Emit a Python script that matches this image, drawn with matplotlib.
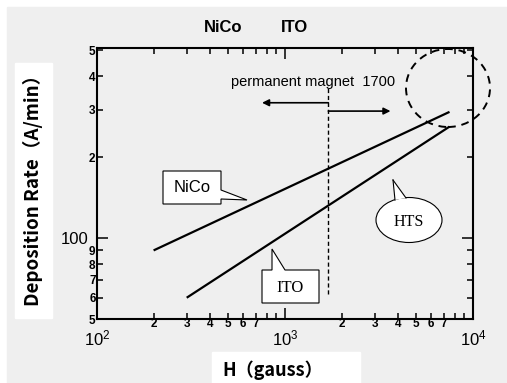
import matplotlib
matplotlib.use("Agg")
import matplotlib.pyplot as plt
from matplotlib import ticker
from matplotlib.patches import Polygon, Ellipse, Rectangle
from matplotlib.lines import Line2D

# deposition rate vs magnetic field (log-log)
nico_h = [200, 7500]
nico_rate = [90, 295]
ito_h = [300, 7500]
ito_rate = [60, 260]
magnet_h = 1700

x_minor = [200, 300, 400, 500, 600, 700, 800, 900,
           2000, 3000, 4000, 5000, 6000, 7000, 8000, 9000]
y_minor = [50, 60, 70, 80, 90, 200, 300, 400, 500]

W, H = 507, 383
BG = "#efefef"


def px(x, y):
    """pixel position measured from the top-left corner -> figure fraction"""
    return x / W, 1 - y / H


def first_digit(v, pos=None):
    return str(int(round(v)))[0]


plt.rcParams["font.family"] = ["Liberation Sans", "DejaVu Sans"]
plt.rcParams["mathtext.fontset"] = "custom"
plt.rcParams["mathtext.rm"] = "Liberation Sans"
plt.rcParams["mathtext.default"] = "regular"

fig = plt.figure(figsize=(W / 100, H / 100), dpi=100, facecolor="white")
fig.add_artist(Rectangle(px(7, 383), (W - 7) / W, (H - 7) / H,
                         transform=fig.transFigure, color=BG, zorder=0))

l, t = px(97, 48)
r, b = px(473, 319)
ax = fig.add_axes([l, b, r - l, t - b])
ax.set_facecolor(BG)
ax.set_xscale("log")
ax.set_yscale("log")
ax.set_xlim(100, 10000)
ax.set_ylim(50, 510)

ax.plot(nico_h, nico_rate, color="black", lw=1.6, solid_capstyle="butt")
ax.plot(ito_h, ito_rate, color="black", lw=1.6, solid_capstyle="butt")

for s in ax.spines.values():
    s.set_linewidth(1.5)

# ticks: decades labelled 10^n, minor ticks 2..7 labelled with the digit only
ax.xaxis.set_major_locator(ticker.FixedLocator([100, 1000, 10000]))
ax.xaxis.set_major_formatter(ticker.LogFormatterMathtext())
ax.xaxis.set_minor_locator(ticker.FixedLocator(x_minor))
ax.xaxis.set_minor_formatter(ticker.FuncFormatter(
    lambda v, p: first_digit(v) if first_digit(v) in "234567" else ""))

ax.yaxis.set_major_locator(ticker.FixedLocator([100]))
ax.yaxis.set_major_formatter(ticker.FixedFormatter(["100"]))
ax.yaxis.set_minor_locator(ticker.FixedLocator(y_minor))
ax.yaxis.set_minor_formatter(ticker.FuncFormatter(first_digit))

ax.tick_params(which="both", direction="in", top=True, right=True, width=1.1)
ax.tick_params(which="major", length=8, labelsize=12, pad=6.5)
ax.tick_params(which="minor", length=4.5, labelsize=8.5, pad=-1)
ax.tick_params(axis="y", which="major", pad=6)
ax.tick_params(axis="y", which="minor", pad=1)
for lab in ax.xaxis.get_minorticklabels() + ax.yaxis.get_minorticklabels():
    lab.set_fontweight("bold")
    lab.set_family(["Liberation Sans Narrow", "Liberation Sans"])

# permanent magnet boundary
ax.vlines(magnet_h, 62, 370, colors="black", lw=1.0, linestyles=(0, (3, 2)))
ax.annotate("", xy=(755, 319), xytext=(magnet_h, 319),
            arrowprops=dict(arrowstyle="-|>", color="black", lw=1.2,
                            mutation_scale=10, shrinkA=0, shrinkB=0))
ax.annotate("", xy=(3640, 297), xytext=(magnet_h, 297),
            arrowprops=dict(arrowstyle="-|>", color="black", lw=1.2,
                            mutation_scale=10, shrinkA=0, shrinkB=0))
fig.text(*px(231, 82), "permanent magnet  1700", fontsize=10.5,
         ha="left", va="center")

# dashed circle around the high-field end
fig.add_artist(Ellipse(px(448, 88), 84 / W, 78 / H, transform=fig.transFigure,
                       fill=False, ec="black", lw=1.4, ls=(0, (4, 3)), zorder=5))

# callouts
nico_box = [(163, 171), (221, 171), (221, 190), (247, 200), (221, 199),
            (221, 204), (163, 204)]
fig.add_artist(Polygon([px(*p) for p in nico_box], closed=True,
                       transform=fig.transFigure, fc="white", ec="black",
                       lw=0.8, zorder=6))
fig.text(*px(192, 188), "NiCo", fontsize=12, ha="center", va="center", zorder=7)

ito_box = [(262, 270), (272, 270), (272, 249), (285, 270), (319, 270),
           (319, 303), (262, 303)]
fig.add_artist(Polygon([px(*p) for p in ito_box], closed=True,
                       transform=fig.transFigure, fc="white", ec="black",
                       lw=0.8, zorder=6))
fig.text(*px(290, 288), "ITO", fontsize=12, family="Liberation Serif",
         ha="center", va="center", zorder=7)

fig.add_artist(Ellipse(px(409, 220), 66 / W, 45 / H, transform=fig.transFigure,
                       fc="white", ec="black", lw=0.8, zorder=6))
tip, b1, b2 = (393, 180), (395, 200), (406, 198)
fig.add_artist(Polygon([px(*tip), px(*b1), px(*b2)], closed=True,
                       transform=fig.transFigure, fc="white", ec="none", zorder=6.5))
for bp in (b1, b2):
    x0, y0 = px(*tip)
    x1, y1 = px(*bp)
    fig.add_artist(Line2D([x0, x1], [y0, y1], transform=fig.transFigure,
                          color="black", lw=0.8, zorder=7))
fig.text(*px(409, 222), "HTS", fontsize=11.5, family="Liberation Serif",
         ha="center", va="center", zorder=7)

# header
fig.text(*px(223, 28), "NiCo", fontsize=12, fontweight="bold", ha="center", va="center")
fig.text(*px(294, 28), "ITO", fontsize=12, fontweight="bold", ha="center", va="center")

# axis titles on white strips
fig.add_artist(Rectangle(px(15, 318), 37 / W, 255 / H, transform=fig.transFigure,
                         color="white", zorder=1))
fig.text(*px(33, 186), "Deposition Rate（A/min）", rotation=90, fontsize=13.5,
         fontweight="bold", family=["Noto Sans CJK JP", "DejaVu Sans"],
         ha="center", va="center", zorder=2)
fig.add_artist(Rectangle(px(212, 383), 148 / W, 31 / H, transform=fig.transFigure,
                         color="white", zorder=1))
fig.text(*px(222, 370), "H（gauss）", fontsize=13, fontweight="bold",
         family=["Noto Sans CJK JP", "DejaVu Sans"], ha="left", va="center", zorder=2)

fig.savefig("out.png", dpi=100, facecolor="white")
